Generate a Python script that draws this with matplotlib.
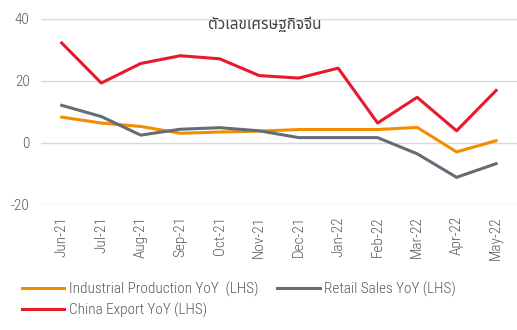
import matplotlib.pyplot as plt

months = ["Jun-21", "Jul-21", "Aug-21", "Sep-21", "Oct-21", "Nov-21",
          "Dec-21", "Jan-22", "Feb-22", "Mar-22", "Apr-22", "May-22"]
ind_prod = [8.3, 6.4, 5.3, 3.1, 3.5, 3.8, 4.3, 4.3, 4.3, 5.0, -2.9, 0.7]
retail = [12.1, 8.5, 2.5, 4.4, 4.9, 3.9, 1.7, 1.7, 1.7, -3.5, -11.1, -6.7]
export = [32.2, 19.3, 25.6, 28.1, 27.1, 21.7, 20.9, 24.1, 6.4, 14.7, 3.9, 16.9]

plt.rcParams["font.family"] = ["Roboto Condensed", "Archivo Narrow", "DejaVu Sans"]
plt.rcParams["font.weight"] = "light"
plt.rcParams["axes.unicode_minus"] = False
txt = "#595959"

fig = plt.figure(figsize=(5.17, 3.30), dpi=100)
ax = fig.add_axes([0.079, 0.379, 0.921, 0.564])

x = range(len(months))
l1, = ax.plot(x, ind_prod, color="#F28C00", lw=2.2, label="Industrial Production YoY  (LHS)")
l2, = ax.plot(x, retail, color="#646D75", lw=2.2, label="Retail Sales YoY (LHS)")
l3, = ax.plot(x, export, color="#E8192C", lw=2.2, label="China Export YoY (LHS)")

ax.set_ylim(-20, 40)
ax.set_yticks([-20, 0, 20, 40])
ax.set_xlim(-0.53, 11.53)
ax.set_xticks(list(x))
ax.set_xticklabels(months, rotation=90)
ax.tick_params(length=0, labelsize=11, colors=txt, pad=8)
ax.grid(axis="y", color="#d9d9d9", lw=1)
ax.set_axisbelow(True)
for s in ax.spines.values():
    s.set_visible(False)

ax.text(5.15, 38, "ตัวเลขเศรษฐกิจจีน", ha="center", va="center", fontsize=11,
        color="#404040", weight="light",
        family=["Noto Sans Thai", "Sarabun", "DejaVu Sans"])

fig.legend([l1, l3, l2], [l1.get_label(), l3.get_label(), l2.get_label()],
           loc="upper left", bbox_to_anchor=(0.03, 0.164), ncol=2, frameon=False,
           fontsize=11, labelcolor=txt, handlelength=2.8, handletextpad=0.3,
           columnspacing=1.2, borderaxespad=0, labelspacing=0.35)

fig.savefig("out.png", dpi=100)
